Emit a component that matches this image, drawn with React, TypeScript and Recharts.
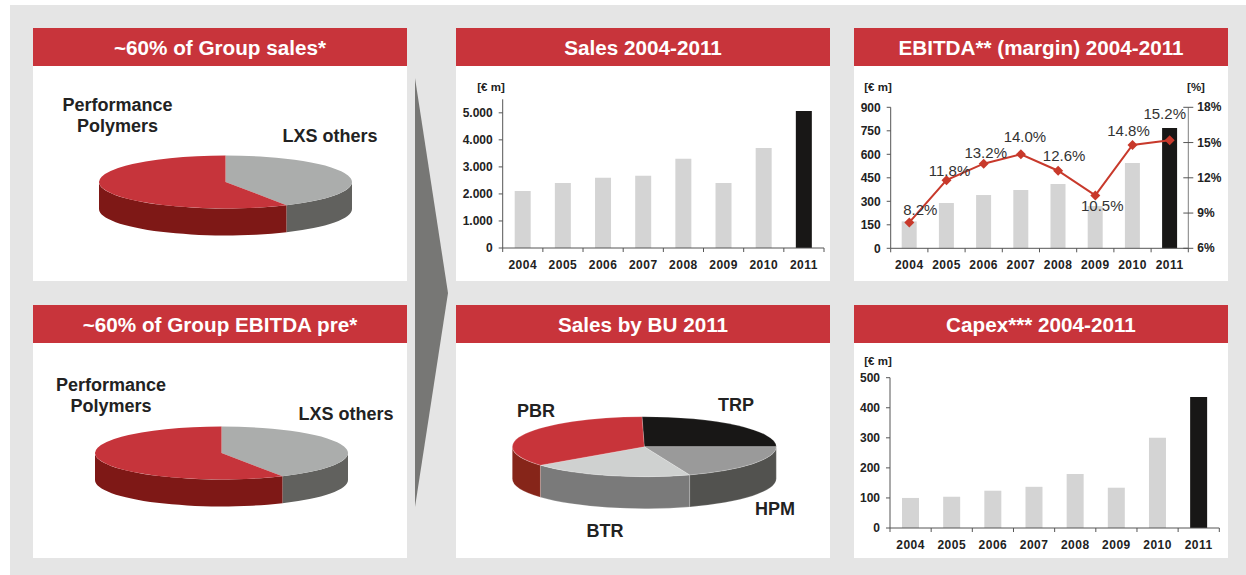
import React from "react"
import {
  Bar,
  BarChart,
  Cell,
  ComposedChart,
  LabelList,
  Line,
  Pie,
  PieChart,
  XAxis,
  YAxis,
} from "recharts"

const years = ["2004", "2005", "2006", "2007", "2008", "2009", "2010", "2011"]
const salesValues = [2110, 2400, 2600, 2670, 3300, 2400, 3700, 5070]
const ebitdaValues = [172, 289, 340, 372, 410, 270, 545, 768]
const marginValues = [8.2, 11.8, 13.2, 14.0, 12.6, 10.5, 14.8, 15.2]
const capexValues = [100, 104, 124, 137, 180, 134, 300, 436]

const salesShareNames = ["LXS others", "Performance Polymers"]
const salesShareValues = [42, 58]
const ebitdaShareValues = [42, 58]
const buNames = ["TRP", "HPM", "BTR", "PBR"]
const buValues = [25.3, 19.4, 20, 35.3]

const FONT = '"Liberation Sans", Arial, sans-serif'
const RED = "#c8343b"
const DARK = "#222222"
const AXIS = "#555555"

// top face / side wall colours per slice
const SHARE_TOP = ["#abadac", "#c6343b"]
const SHARE_SIDE = ["#61615e", "#7e1816"]
const BU_TOP = ["#181716", "#9a9a9a", "#cfd1d0", "#c8343a"]
const BU_SIDE = ["#181716", "#52524f", "#7a7a7a", "#862519"]

const toTable = (values: number[]) =>
  years.map((year, i) => ({ year, value: values[i] }))

const ebitdaTable = years.map((year, i) => ({
  year,
  ebitda: ebitdaValues[i],
  margin: marginValues[i],
}))

const RAD = Math.PI / 180

// draws a recharts pie sector as a slice of a flattened 3D disc
function makeSlice(top: string[], side: string[], ry: number, depth: number, rim: string) {
  return function Slice(props: any) {
    const { cx, cy, outerRadius: rx, startAngle, endAngle, index } = props
    const pt = (deg: number, dy = 0) =>
      `${cx + rx * Math.cos(deg * RAD)} ${cy - ry * Math.sin(deg * RAD) + dy}`
    const hi = Math.max(startAngle, endAngle)
    const lo = Math.min(startAngle, endAngle)
    const large = hi - lo > 180 ? 1 : 0

    const walls: string[] = []
    for (let k = -2; k <= 1; k++) {
      const a = Math.min(hi, 360 * k)
      const b = Math.max(lo, 360 * k - 180)
      if (a > b) {
        walls.push(
          `M${pt(a)} A${rx} ${ry} 0 0 1 ${pt(b)} L${pt(b, depth)} A${rx} ${ry} 0 0 0 ${pt(a, depth)} Z`
        )
      }
    }

    return (
      <g>
        {walls.map((d, i) => (
          <path key={i} d={d} fill={side[index]} stroke={rim} strokeWidth={0.6} />
        ))}
        <path
          d={`M${cx} ${cy} L${pt(hi)} A${rx} ${ry} 0 ${large} 1 ${pt(lo)} Z`}
          fill={top[index]}
          stroke={rim}
          strokeWidth={0.6}
        />
      </g>
    )
  }
}

function YearTick(props: any) {
  const { x, y, payload, width, visibleTicksCount } = props
  const step = width / visibleTicksCount
  const last = payload.index === visibleTicksCount - 1
  return (
    <g>
      <line x1={x - step / 2} x2={x - step / 2} y1={y} y2={y + 4} stroke={AXIS} />
      {last && <line x1={x + step / 2} x2={x + step / 2} y1={y} y2={y + 4} stroke={AXIS} />}
      <text
        x={x}
        y={y + 21}
        textAnchor="middle"
        fontFamily={FONT}
        fontSize={12}
        fontWeight="bold"
        letterSpacing={0.5}
        fill={DARK}
      >
        {payload.value}
      </text>
    </g>
  )
}

function PercentTick(props: any) {
  const { x, y, payload } = props
  return (
    <g>
      <line x1={x - 5} x2={x + 5} y1={y} y2={y} stroke={AXIS} />
      <text
        x={x + 9}
        y={y + 4}
        fontFamily={FONT}
        fontSize={12}
        fontWeight="bold"
        fill={DARK}
      >
        {payload.value}%
      </text>
    </g>
  )
}

function Diamond(props: any) {
  const { cx, cy, index } = props
  return (
    <path
      key={index}
      d={`M${cx - 5} ${cy} L${cx} ${cy - 5} L${cx + 5} ${cy} L${cx} ${cy + 5} Z`}
      fill="#c8392b"
    />
  )
}

// hand placed so the margin labels sit where they do in the slide
const MARGIN_LABEL_SHIFT = [
  [11, -12],
  [3, -9],
  [2, -11],
  [4, -17],
  [6, -15],
  [7, 11],
  [-4, -14],
  [-5, -26],
]

function MarginLabel(props: any) {
  const { x, y, value, index } = props
  const [dx, dy] = MARGIN_LABEL_SHIFT[index]
  return (
    <text
      x={x + dx}
      y={y + dy + 5}
      textAnchor="middle"
      fontFamily={FONT}
      fontSize={15}
      fill="#333333"
    >
      {value.toFixed(1)}%
    </text>
  )
}

const yTickStyle = {
  fontFamily: FONT,
  fontSize: 12,
  fontWeight: "bold",
  fill: DARK,
}

function Panel({ x, y, h, title, children }: any) {
  return (
    <div style={{ position: "absolute", left: x, top: y, width: 374, height: h, background: "#fff" }}>
      <div
        style={{
          height: 38,
          lineHeight: "39px",
          background: RED,
          color: "#fff",
          textAlign: "center",
          fontFamily: FONT,
          fontWeight: "bold",
          fontSize: 20.7,
        }}
      >
        {title}
      </div>
      {children}
    </div>
  )
}

// text placed by its centre, in page coordinates
function Note({ x, y, size, children }: any) {
  return (
    <div
      style={{
        position: "absolute",
        left: x - 100,
        top: y - 15,
        width: 200,
        height: 30,
        lineHeight: "30px",
        textAlign: "center",
        fontFamily: FONT,
        fontWeight: "bold",
        fontSize: size,
        color: DARK,
      }}
    >
      {children}
    </div>
  )
}

function YearBars({ values, domain, ticks, marginTop, marginRight, xHeight, yWidth, barSize, format }: any) {
  return (
    <BarChart
      width={374}
      height={215}
      data={toTable(values)}
      margin={{ top: marginTop, right: marginRight, bottom: 0, left: 0 }}
    >
      <XAxis
        dataKey="year"
        height={xHeight}
        interval={0}
        tickLine={false}
        tickSize={0}
        tickMargin={0}
        tick={YearTick}
        axisLine={{ stroke: AXIS }}
      />
      <YAxis
        width={yWidth}
        domain={domain}
        ticks={ticks}
        tickSize={4}
        tickMargin={6}
        tick={yTickStyle}
        tickFormatter={format}
        stroke={AXIS}
      />
      <Bar dataKey="value" barSize={barSize} isAnimationActive={false}>
        {values.map((_: number, i: number) => (
          <Cell key={i} fill={i === values.length - 1 ? "#181716" : "#d4d4d4"} />
        ))}
      </Bar>
    </BarChart>
  )
}

function Disc({ names, values, top, side, cx, cy, rx, ry, depth, start, rim }: any) {
  return (
    <PieChart
      width={374}
      height={215}
      margin={{ top: 0, right: 0, bottom: 0, left: 0 }}
    >
      <Pie
        data={names.map((name: string, i: number) => ({ name, value: values[i] }))}
        dataKey="value"
        nameKey="name"
        cx={cx}
        cy={cy}
        innerRadius={0}
        outerRadius={rx}
        startAngle={start}
        endAngle={start - 360}
        stroke="none"
        shape={makeSlice(top, side, ry, depth, rim)}
        isAnimationActive={false}
      />
    </PieChart>
  )
}

export default function App() {
  return (
    <div style={{ position: "absolute", left: 0, top: 0, width: 1246, height: 575, background: "#fff", overflow: "hidden" }}>
      <div style={{ position: "absolute", left: 10, top: 5, width: 1236, height: 570, background: "#e5e5e5" }} />

      <svg style={{ position: "absolute", left: 0, top: 0 }} width={1246} height={575}>
        <polygon points="415,78 448,293 415,507" fill="#777775" />
      </svg>

      <Panel x={33} y={28} h={253} title="~60% of Group sales*">
        <Disc
          names={salesShareNames}
          values={salesShareValues}
          top={SHARE_TOP}
          side={SHARE_SIDE}
          cx={192.5}
          cy={116}
          rx={126.5}
          ry={26.5}
          depth={27}
          start={90}
          rim="none"
        />
      </Panel>

      <Panel x={33} y={305} h={253} title="~60% of Group EBITDA pre*">
        <Disc
          names={salesShareNames}
          values={ebitdaShareValues}
          top={SHARE_TOP}
          side={SHARE_SIDE}
          cx={188.5}
          cy={110}
          rx={126.5}
          ry={26.5}
          depth={27}
          start={90}
          rim="none"
        />
      </Panel>

      <Panel x={456} y={28} h={253} title="Sales 2004-2011">
        <YearBars
          values={salesValues}
          domain={[0, 5500]}
          ticks={[0, 1000, 2000, 3000, 4000, 5000]}
          marginTop={33.3}
          marginRight={6}
          xHeight={33}
          yWidth={46.7}
          barSize={16}
          format={(v: number) => (v === 0 ? "0" : `${v / 1000}.000`)}
        />
      </Panel>

      <Panel x={456} y={305} h={253} title="Sales by BU 2011">
        <Disc
          names={buNames}
          values={buValues}
          top={BU_TOP}
          side={BU_SIDE}
          cx={188.3}
          cy={103.7}
          rx={132}
          ry={30}
          depth={32}
          start={91}
          rim="rgba(255,255,255,0.3)"
        />
      </Panel>

      <Panel x={854} y={28} h={253} title="EBITDA** (margin) 2004-2011">
        <ComposedChart
          width={374}
          height={215}
          data={ebitdaTable}
          margin={{ top: 41.3, right: 0, bottom: 0, left: 0 }}
        >
          <XAxis
            dataKey="year"
            height={32.7}
            interval={0}
            tickLine={false}
            tickSize={0}
            tickMargin={0}
            tick={YearTick}
            axisLine={{ stroke: AXIS }}
          />
          <YAxis
            yAxisId="left"
            width={36.7}
            domain={[0, 900]}
            ticks={[0, 150, 300, 450, 600, 750, 900]}
            tickSize={4}
            tickMargin={6}
            tick={yTickStyle}
            stroke={AXIS}
          />
          <YAxis
            yAxisId="right"
            orientation="right"
            width={39.7}
            domain={[6, 18]}
            ticks={[6, 9, 12, 15, 18]}
            tickLine={false}
            tickSize={0}
            tickMargin={0}
            tick={PercentTick}
            stroke="#7f7f7f"
          />
          <Bar yAxisId="left" dataKey="ebitda" barSize={15} isAnimationActive={false}>
            {ebitdaValues.map((_, i) => (
              <Cell key={i} fill={i === ebitdaValues.length - 1 ? "#181716" : "#d4d4d4"} />
            ))}
          </Bar>
          <Line
            yAxisId="right"
            dataKey="margin"
            stroke="#c8392b"
            strokeWidth={2}
            dot={Diamond}
            isAnimationActive={false}
          >
            <LabelList dataKey="margin" content={MarginLabel} />
          </Line>
        </ComposedChart>
      </Panel>

      <Panel x={854} y={305} h={253} title="Capex*** 2004-2011">
        <YearBars
          values={capexValues}
          domain={[0, 500]}
          ticks={[0, 100, 200, 300, 400, 500]}
          marginTop={34.7}
          marginRight={8.7}
          xHeight={30}
          yWidth={36}
          barSize={17}
          format={(v: number) => `${v}`}
        />
      </Panel>

      <Note x={117.5} y={105} size={18}>Performance</Note>
      <Note x={117.5} y={126} size={18}>Polymers</Note>
      <Note x={330} y={136} size={18}>LXS others</Note>
      <Note x={111} y={385} size={18}>Performance</Note>
      <Note x={111} y={406} size={18}>Polymers</Note>
      <Note x={346} y={414} size={18}>LXS others</Note>
      <Note x={536} y={411} size={18}>PBR</Note>
      <Note x={736} y={405} size={18}>TRP</Note>
      <Note x={775} y={509} size={18}>HPM</Note>
      <Note x={605} y={531} size={18}>BTR</Note>

      <Note x={491} y={87} size={11.5}>[€ m]</Note>
      <Note x={878} y={87} size={11.5}>[€ m]</Note>
      <Note x={1196} y={87} size={11.5}>[%]</Note>
      <Note x={878} y={361} size={11.5}>[€ m]</Note>
    </div>
  )
}
